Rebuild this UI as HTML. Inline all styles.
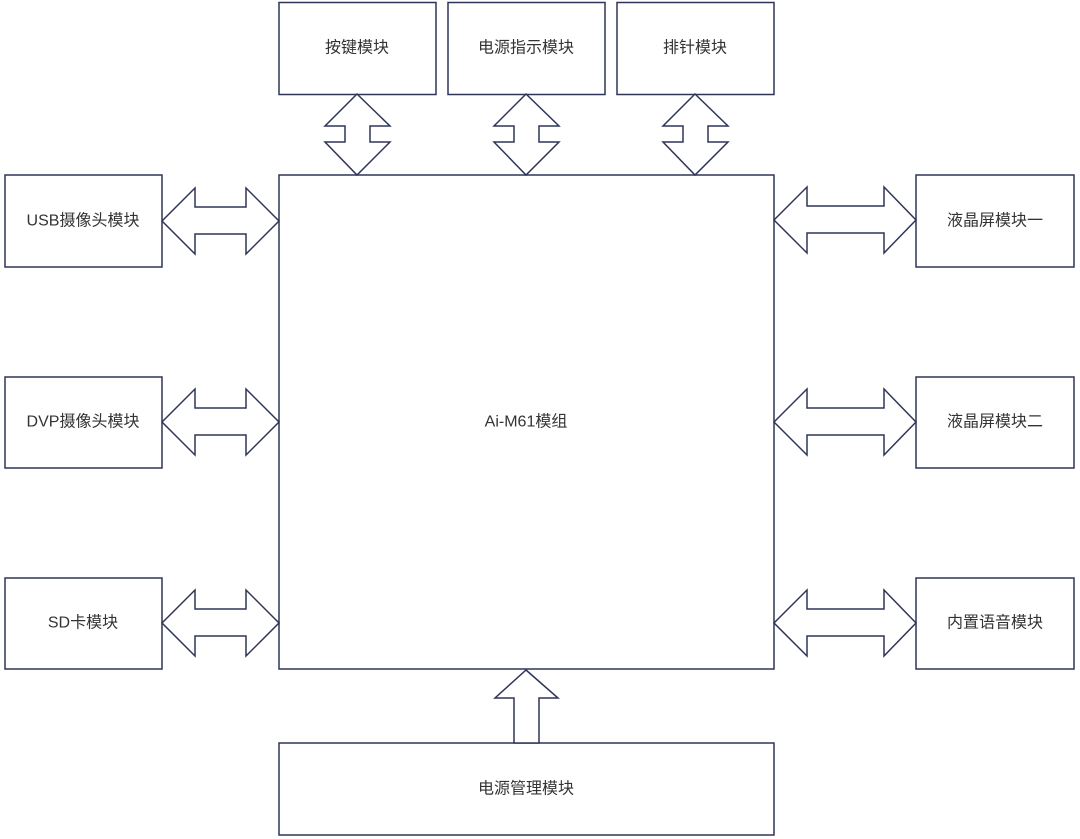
<!DOCTYPE html>
<html><head><meta charset="utf-8"><style>
html,body{margin:0;padding:0;background:#fff;}
svg{display:block}
text{font-family:"Liberation Sans","Noto Sans CJK SC",sans-serif;font-size:16px;fill:#333;text-anchor:middle;dominant-baseline:central}
</style></head><body>
<svg width="1080" height="839" viewBox="0 0 1080 839" xmlns="http://www.w3.org/2000/svg">
<g fill="#fff" stroke="#2e3558" stroke-width="1.5">
<rect x="279" y="2.5" width="157" height="92"/>
<rect x="448" y="2.5" width="157" height="92"/>
<rect x="617" y="2.5" width="157" height="92"/>
<rect x="279" y="175" width="495" height="494"/>
<rect x="5" y="175" width="157" height="92"/>
<rect x="5" y="377" width="157" height="91"/>
<rect x="5" y="578" width="157" height="91"/>
<rect x="916" y="175" width="158" height="92"/>
<rect x="916" y="377" width="158" height="91"/>
<rect x="916" y="578" width="158" height="91"/>
<rect x="279" y="743" width="495" height="92"/>
<!-- vertical double arrows -->
<polygon points="357,94 390,126 370,126 370,142 390,142 357,175 325,142 345,142 345,126 325,126"/>
<polygon points="526,94 559,126 539,126 539,142 559,142 526,175 494,142 514,142 514,126 494,126"/>
<polygon points="695,94 728,126 708,126 708,142 728,142 695,175 663,142 683,142 683,126 663,126"/>
<!-- left horizontal arrows -->
<polygon points="162,221 195,188 195,207 246,207 246,188 279,221 246,254 246,234 195,234 195,254"/>
<polygon points="162,422 195,389 195,408 246,408 246,389 279,422 246,455 246,435 195,435 195,455"/>
<polygon points="162,623 195,590 195,609 246,609 246,590 279,623 246,656 246,636 195,636 195,656"/>
<!-- right horizontal arrows -->
<polygon points="774,220 807,187 807,206 884,206 884,187 916,220 884,253 884,233 807,233 807,253"/>
<polygon points="774,422 807,389 807,408 884,408 884,389 916,422 884,455 884,435 807,435 807,455"/>
<polygon points="774,623 807,590 807,609 884,609 884,590 916,623 884,656 884,636 807,636 807,656"/>
<!-- bottom arrow -->
<polygon points="526,670 558,698 539,698 539,743 514,743 514,698 495,698"/>
</g>
<text x="357" y="48">按键模块</text>
<text x="526" y="48">电源指示模块</text>
<text x="695" y="48">排针模块</text>
<text x="83" y="221">USB摄像头模块</text>
<text x="83" y="422">DVP摄像头模块</text>
<text x="83" y="623">SD卡模块</text>
<text x="995" y="221">液晶屏模块一</text>
<text x="995" y="422">液晶屏模块二</text>
<text x="995" y="623">内置语音模块</text>
<text x="526" y="422">Ai-M61模组</text>
<text x="526" y="789">电源管理模块</text>
</svg>
</body></html>
